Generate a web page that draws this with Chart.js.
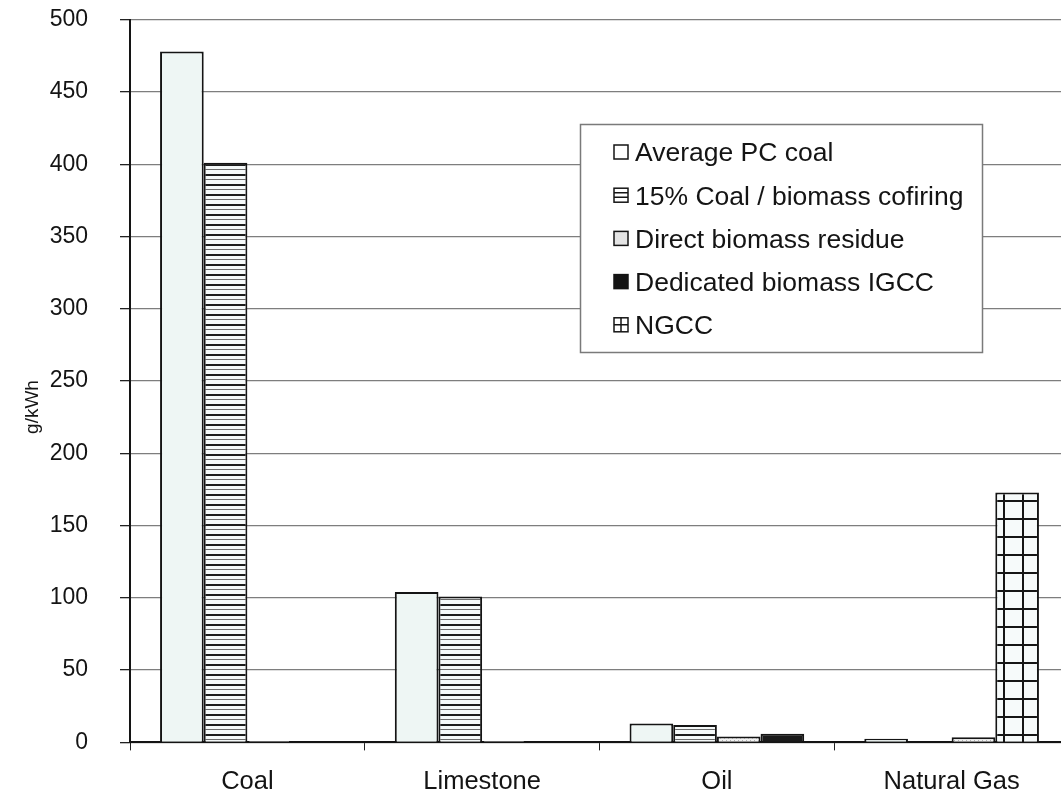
<!DOCTYPE html>
<html>
<head>
<meta charset="utf-8">
<script src="https://cdn.jsdelivr.net/npm/chart.js@4.4.1/dist/chart.umd.min.js"></script>
<style>
  html, body { margin: 0; padding: 0; background: #fff; overflow: hidden; }
  #wrap { width: 1075px; height: 800px; overflow: hidden; position: relative; }
  #c { position: absolute; left: 0; top: -26px; }
</style>
</head>
<body>
<div id="wrap"><canvas id="c" width="1075" height="845"></canvas></div>
<script>
// Emissions by source category (g/kWh)
const categories = ['Coal', 'Limestone', 'Oil', 'Natural Gas'];
const seriesNames = [
  'Average PC coal',
  '15% Coal / biomass cofiring',
  'Direct biomass residue',
  'Dedicated biomass IGCC',
  'NGCC'
];
const avgPcCoal     = [478, 104, 13, 2.5];
const cofiring      = [401, 101, 12, 0.5];
const directResidue = [1, 1, 4, 3.5];
const dedicatedIgcc = [1, 1, 6, null];
const ngcc          = [null, null, null, 173];
const yTickValues   = [0, 50, 100, 150, 200, 250, 300, 350, 400, 450, 500];

const FONT = "'Liberation Sans', Arial, sans-serif";
const SHIFT = 26; // canvas sits this far above the page top

// Small tiled fills for the hatched bars
function makePattern(w, h, draw) {
  const c = document.createElement('canvas');
  c.width = w; c.height = h;
  const g = c.getContext('2d');
  draw(g, w, h);
  return g.createPattern(c, 'repeat');
}

const plainFill = '#eef6f4';

const stripeFill = makePattern(10, 10, (g, w, h) => {
  g.fillStyle = '#f4f8f8'; g.fillRect(0, 0, w, h);
  g.fillStyle = '#1c1c1c'; g.fillRect(0, 0, w, 2);
  g.fillStyle = '#6a6a6a'; g.fillRect(0, 5, w, 1);
});

const dotFill = makePattern(4, 4, (g, w, h) => {
  g.fillStyle = '#f2f2f2'; g.fillRect(0, 0, w, h);
  g.fillStyle = '#b0b0b0'; g.fillRect(0, 0, 1, 1); g.fillRect(2, 2, 1, 1);
});

const gridFill = makePattern(19, 18, (g, w, h) => {
  g.fillStyle = '#f6fafa'; g.fillRect(0, 0, w, h);
  g.fillStyle = '#151515';
  g.fillRect(0, 4, w, 2);
  g.fillRect(15, 0, 2, h);
});

const fills = [plainFill, stripeFill, dotFill, '#1a1a1a', gridFill];
const seriesData = [avgPcCoal, cofiring, directResidue, dedicatedIgcc, ngcc];
const stackIds = ['s1', 's2', 's3', 's4', 's4'];

const datasets = seriesNames.map((name, i) => ({
  label: name,
  data: seriesData[i],
  backgroundColor: fills[i],
  borderColor: '#141414',
  borderWidth: 2,
  stack: stackIds[i]
}));

// Legend swatches: outline plus the hatch drawn as a few strokes
function drawSwatch(ctx, i, x, y, s) {
  ctx.fillStyle = i === 3 ? '#141414' : (i === 2 ? '#e4e4e4' : '#ffffff');
  ctx.fillRect(x, y, s, s);
  ctx.strokeStyle = '#141414';
  ctx.lineWidth = 1.5;
  ctx.beginPath();
  if (i === 1) {
    ctx.moveTo(x, y + 4.5); ctx.lineTo(x + s, y + 4.5);
    ctx.moveTo(x, y + 9); ctx.lineTo(x + s, y + 9);
  } else if (i === 4) {
    ctx.moveTo(x + s / 2, y); ctx.lineTo(x + s / 2, y + s);
    ctx.moveTo(x, y + s / 2); ctx.lineTo(x + s, y + s / 2);
  }
  ctx.stroke();
  ctx.strokeRect(x, y, s, s);
}

// Framed legend box and rotated axis caption
const overlay = {
  id: 'overlay',
  afterDraw(chart) {
    const ctx = chart.ctx;
    ctx.save();
    ctx.translate(0, SHIFT);
    ctx.fillStyle = '#ffffff';
    ctx.fillRect(580, 124, 402, 228);
    ctx.strokeStyle = '#7a7a7a';
    ctx.lineWidth = 1.5;
    ctx.strokeRect(580.5, 124.5, 402, 228);
    ctx.font = '26.5px ' + FONT;
    ctx.textBaseline = 'middle';
    chart.data.datasets.forEach((ds, i) => {
      const y = 153 + i * 43.2;
      drawSwatch(ctx, i, 614, y - 8, 14);
      ctx.fillStyle = '#141414';
      ctx.fillText(ds.label, 635, y + 1);
    });
    ctx.translate(33, 407);
    ctx.rotate(-Math.PI / 2);
    ctx.textAlign = 'center';
    ctx.textBaseline = 'middle';
    ctx.font = '19px ' + FONT;
    ctx.fillStyle = '#141414';
    ctx.fillText('g/kWh', 0, 0);
    ctx.restore();
  }
};

new Chart(document.getElementById('c'), {
  type: 'bar',
  data: { labels: categories, datasets },
  options: {
    responsive: false,
    animation: false,
    devicePixelRatio: 1,
    layout: { padding: { top: 0, right: 6, bottom: 6, left: 0 } },
    datasets: { bar: { categoryPercentage: 0.744, barPercentage: 1 } },
    plugins: { legend: { display: false }, tooltip: { enabled: false } },
    scales: {
      x: {
        stacked: true,
        grid: { drawOnChartArea: false, drawTicks: true, tickLength: 8, tickColor: '#222', offset: true },
        border: { color: '#141414', width: 2 },
        ticks: { color: '#141414', padding: 16, font: { family: FONT, size: 25.5 } }
      },
      y: {
        stacked: true,
        min: 0,
        max: 500,
        afterBuildTicks: s => { s.ticks = yTickValues.map(v => ({ value: v })); },
        afterFit: s => { s.width = 130; },
        grid: { color: '#7e7e7e', lineWidth: 1.3, tickLength: 10, tickColor: '#222' },
        border: { color: '#141414', width: 2 },
        ticks: { color: '#141414', padding: 32, font: { family: FONT, size: 23 } }
      }
    }
  },
  plugins: [overlay]
});
</script>
</body>
</html>
